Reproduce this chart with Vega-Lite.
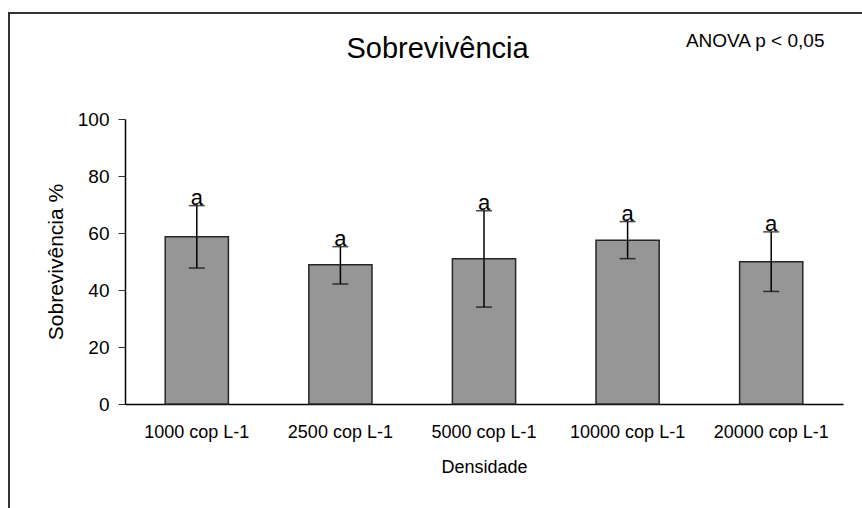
{
  "$schema": "https://vega.github.io/schema/vega-lite/v6.json",
  "width": 857,
  "height": 500,
  "autosize": {"type": "none"},
  "padding": {"left": 9, "top": 13, "right": -4, "bottom": -5},
  "background": "white",
  "title": {
    "text": "Sobrevivência",
    "fontSize": 29,
    "font": "Liberation Sans",
    "fontWeight": "normal",
    "color": "black",
    "anchor": "middle",
    "frame": "group",
    "baseline": "alphabetic",
    "offset": -74
  },
  "config": {
    "view": {"stroke": "#333333", "strokeWidth": 2},
    "font": "Liberation Sans"
  },
  "data": {
    "values": [
      {"densidade": "1000 cop L-1", "media": 58.7, "min": 47.7, "max": 69.6, "letra": "a"},
      {"densidade": "2500 cop L-1", "media": 48.9, "min": 42.1, "max": 55.2, "letra": "a"},
      {"densidade": "5000 cop L-1", "media": 51.0, "min": 34.0, "max": 67.8, "letra": "a"},
      {"densidade": "10000 cop L-1", "media": 57.5, "min": 51.0, "max": 64.0, "letra": "a"},
      {"densidade": "20000 cop L-1", "media": 49.9, "min": 39.5, "max": 60.4, "letra": "a"}
    ]
  },
  "encoding": {
    "x": {
      "field": "densidade",
      "type": "nominal",
      "sort": null,
      "scale": {"range": [116, 834], "paddingInner": 0.56, "paddingOuter": 0.28},
      "axis": {
        "title": "Densidade",
        "labelAngle": 0,
        "labelFontSize": 18,
        "labelColor": "black",
        "titleFontSize": 18,
        "titleFontWeight": "normal",
        "titleColor": "black",
        "ticks": false,
        "tickSize": 0,
        "labelPadding": 19,
        "titlePadding": 17,
        "domainColor": "black",
        "domainWidth": 1.5,
        "offset": -109
      }
    }
  },
  "layer": [
    {
      "mark": {"type": "bar", "fill": "#969696", "stroke": "#262626", "strokeWidth": 1.5},
      "encoding": {
        "y": {
          "field": "media",
          "type": "quantitative",
          "scale": {"domain": [0, 100], "range": [391, 106], "nice": false, "zero": true},
          "axis": {
            "title": "Sobrevivência %",
            "values": [0, 20, 40, 60, 80, 100],
            "labelFontSize": 19,
            "labelColor": "black",
            "titleFontSize": 21,
            "titleFontWeight": "normal",
            "titleColor": "black",
            "titleX": -69,
            "titleBaseline": "middle",
            "tickSize": 7,
            "tickColor": "#333333",
            "tickWidth": 1,
            "labelPadding": 9,
            "domainColor": "black",
            "domainWidth": 1.5,
            "grid": false,
            "offset": -116
          }
        }
      }
    },
    {
      "mark": {"type": "rule", "color": "black", "strokeWidth": 1.5},
      "encoding": {
        "y": {"field": "min", "type": "quantitative"},
        "y2": {"field": "max"}
      }
    },
    {
      "mark": {"type": "tick", "color": "black", "thickness": 1.5, "size": 16},
      "encoding": {"y": {"field": "max", "type": "quantitative"}}
    },
    {
      "mark": {"type": "tick", "color": "black", "thickness": 1.5, "size": 16},
      "encoding": {"y": {"field": "min", "type": "quantitative"}}
    },
    {
      "mark": {"type": "text", "fontSize": 22, "baseline": "alphabetic", "dy": -1, "color": "black"},
      "encoding": {
        "y": {"field": "max", "type": "quantitative"},
        "text": {"field": "letra"}
      }
    },
    {
      "data": {"values": [{}]},
      "mark": {"type": "text", "fontSize": 19, "baseline": "alphabetic", "align": "center", "dx": -16, "color": "black"},
      "encoding": {
        "x": {"datum": "20000 cop L-1"},
        "y": {"datum": 125.3},
        "text": {"value": "ANOVA p < 0,05"}
      }
    }
  ]
}
